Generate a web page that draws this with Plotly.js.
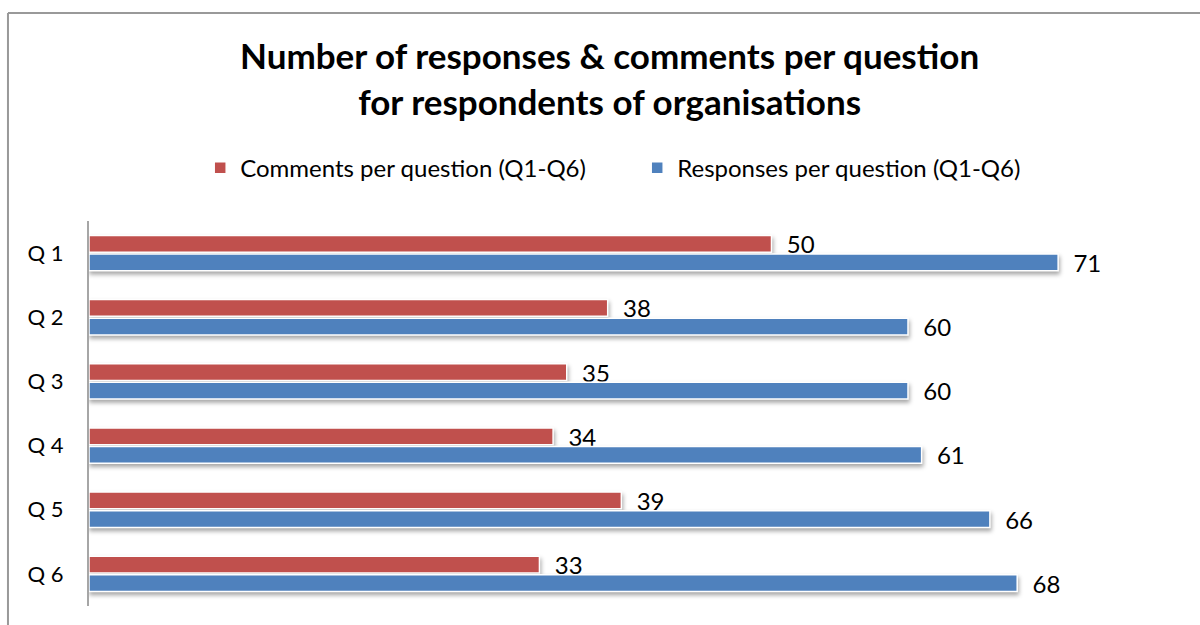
<!DOCTYPE html>
<html>
<head>
<meta charset="utf-8">
<script src="https://cdn.plot.ly/plotly-3.0.1.min.js"></script>
<style>
html,body{margin:0;padding:0;background:#fff;}
#chart{width:1200px;height:625px;}
</style>
</head>
<body>
<div id="chart"></div>
<script>
const categories = ["Q 1", "Q 2", "Q 3", "Q 4", "Q 5", "Q 6"];
const commentsPerQuestion = [50, 38, 35, 34, 39, 33];
const responsesPerQuestion = [71, 60, 60, 61, 66, 68];
const seriesNames = ["Comments per question (Q1-Q6)", "Responses per question (Q1-Q6)"];

const FONT = "Lato, 'Open Sans', sans-serif";

const traces = [
  {
    type: "bar", orientation: "h", name: seriesNames[0],
    y: categories, x: commentsPerQuestion,
    marker: {color: "#C0504D", line: {color: "#ffffff", width: 1.5}},
    text: commentsPerQuestion, texttemplate: "  %{x}", textposition: "outside",
    constraintext: "none",
    textfont: {family: FONT, size: 24, color: "#000"}, cliponaxis: false,
    hoverinfo: "x+name"
  },
  {
    type: "bar", orientation: "h", name: seriesNames[1],
    y: categories, x: responsesPerQuestion,
    marker: {color: "#4F81BD", line: {color: "#ffffff", width: 1.5}},
    text: responsesPerQuestion, texttemplate: "  %{x}", textposition: "outside",
    constraintext: "none",
    textfont: {family: FONT, size: 24, color: "#000"}, cliponaxis: false,
    hoverinfo: "x+name"
  }
];

const layout = {
  width: 1200, height: 625,
  margin: {l: 89, r: 19, t: 221, b: 19},
  paper_bgcolor: "#fff", plot_bgcolor: "#fff",
  font: {family: FONT, color: "#000"},
  barmode: "group", bargap: 0.42, bargroupgap: 0.1,
  title: {
    text: "<b>Number of responses &amp; comments per question<br>for respondents of organisations</b>",
    font: {family: FONT, size: 35, color: "#000"},
    x: 0.508, xref: "container", xanchor: "center",
    y: 0.889, yref: "container", yanchor: "middle"
  },
  showlegend: true,
  legend: {
    orientation: "h", xref: "container", yref: "container",
    x: 0.531, xanchor: "center", y: 0.731, yanchor: "middle",
    font: {family: FONT, size: 24, color: "#000"},
    traceorder: "normal", itemwidth: 30, tracegroupgap: 0,
    entrywidth: 392, entrywidthmode: "pixels"
  },
  xaxis: {range: [0, 80], showgrid: false, zeroline: false, showticklabels: false, showline: false, fixedrange: true},
  yaxis: {
    autorange: "reversed", showgrid: false, zeroline: false,
    showline: true, linecolor: "#a6a6a6", linewidth: 2,
    ticks: "", ticklabelstandoff: 19,
    tickfont: {family: FONT, size: 22, color: "#000"}, fixedrange: true
  },
  shapes: [
    {type: "line", xref: "paper", yref: "paper", x0: -0.0742, x1: 1.05, y0: 1.540, y1: 1.540, line: {color: "#999999", width: 2}},
    {type: "line", xref: "paper", yref: "paper", x0: -0.0742, x1: -0.0742, y0: 1.540, y1: -0.1, line: {color: "#999999", width: 2}}
  ]
};

Plotly.newPlot("chart", traces, layout, {displayModeBar: false, staticPlot: true}).then(function () {
  document.querySelectorAll("#chart .bars .point path").forEach(function (p) {
    p.style.filter = "drop-shadow(1px 3px 2px rgba(0,0,0,0.35))";
  });
});
</script>
</body>
</html>
